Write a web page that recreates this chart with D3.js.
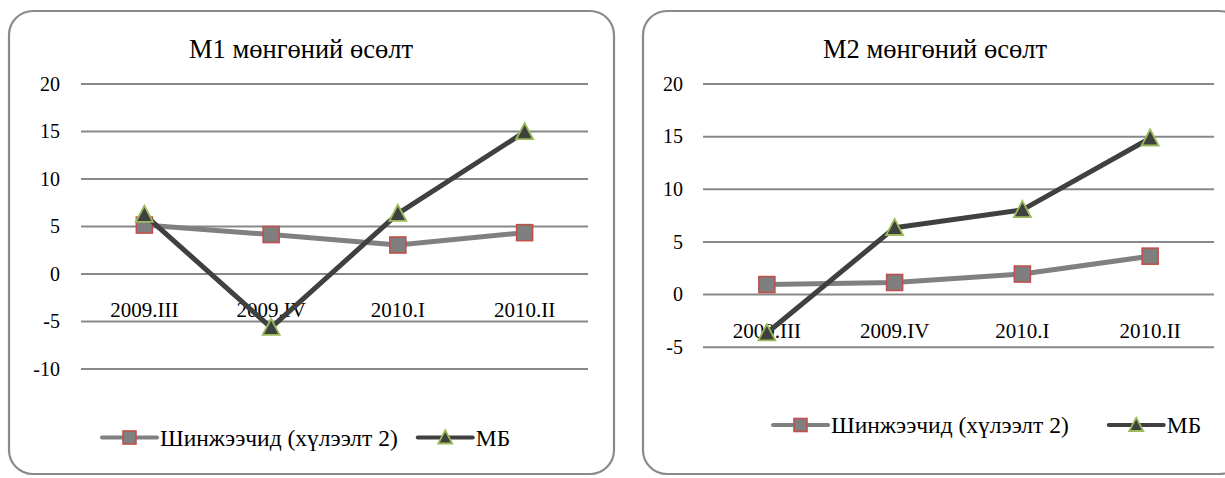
<!DOCTYPE html>
<html>
<head>
<meta charset="utf-8">
<script src="https://cdn.jsdelivr.net/npm/d3@7"></script>
<style>
  html, body { margin: 0; padding: 0; background: #ffffff; }
  svg { display: block; }
  svg text { font-family: "Liberation Serif", "DejaVu Serif", serif !important; fill: #000; }
</style>
</head>
<body>
<svg id="chart" width="1225" height="478"></svg>
<script>
// ---- data ----
const categories = ["2009.III", "2009.IV", "2010.I", "2010.II"];
const seriesNames = ["Шинжээчид (хүлээлт 2)", "МБ"];
const m1Analyst = [5.1, 4.1, 3.0, 4.3];
const m1Bank = [6.2, -5.7, 6.3, 14.9];
const m2Analyst = [0.9, 1.1, 1.9, 3.6];
const m2Bank = [-3.7, 6.3, 8.0, 14.8];
const m1Ticks = [20, 15, 10, 5, 0, -5, -10];
const m2Ticks = [20, 15, 10, 5, 0, -5];
const titles = ["М1 мөнгөний өсөлт", "М2 мөнгөний өсөлт"];

// ---- layout ----
const panels = [
  { title: titles[0], analyst: m1Analyst, bank: m1Bank, ticks: m1Ticks,
    box: { x: 9, y: 11, w: 605, h: 463 },
    plot: { x0: 81, x1: 588, yTop: 83.5, yBot: 368.5 },
    yDomain: [-10, 20], labelX: 60, titleX: 301, legendY: 437.5, legendX: 102, gap: 20 },
  { title: titles[1], analyst: m2Analyst, bank: m2Bank, ticks: m2Ticks,
    box: { x: 643, y: 11, w: 600, h: 463 },
    plot: { x0: 703, x1: 1214, yTop: 83.5, yBot: 346.7 },
    yDomain: [-5, 20], labelX: 683, titleX: 935, legendY: 425, legendX: 773, gap: 40 }
];

const svg = d3.select("#chart");
const colAnalyst = "#808080", colBank = "#404040";
const sqFill = "#7f7f7f", sqStroke = "#c0504d";
const triFill = "#404040", triStroke = "#9bbb59";

function drawSquare(g, x, y, s) {
  g.append("rect").attr("x", x - s / 2).attr("y", y - s / 2)
    .attr("width", s).attr("height", s)
    .attr("fill", sqFill).attr("stroke", sqStroke).attr("stroke-width", 1.6);
}
function drawTri(g, x, y, s) {
  const h = s * 0.95;
  g.append("path")
    .attr("d", `M${x},${y - h * 0.55} L${x + s / 2},${y + h * 0.45} L${x - s / 2},${y + h * 0.45} Z`)
    .attr("fill", triFill).attr("stroke", triStroke).attr("stroke-width", 1.8)
    .attr("stroke-linejoin", "miter");
}

panels.forEach(p => {
  const g = svg.append("g");
  // frame
  g.append("rect").attr("x", p.box.x).attr("y", p.box.y)
    .attr("width", p.box.w).attr("height", p.box.h)
    .attr("rx", 24).attr("ry", 24)
    .attr("fill", "#fff").attr("stroke", "#8a8a8a").attr("stroke-width", 2.2);

  const x = d3.scaleBand().domain(categories).range([p.plot.x0, p.plot.x1]);
  const y = d3.scaleLinear().domain(p.yDomain).range([p.plot.yBot, p.plot.yTop]);
  const cx = c => x(c) + x.bandwidth() / 2;

  // title
  g.append("text").attr("x", p.titleX).attr("y", 58)
    .attr("text-anchor", "middle").attr("font-size", 26.5).text(p.title);

  // gridlines + y labels
  const yAxis = d3.axisLeft(y).tickValues(p.ticks)
    .tickSize(-(p.plot.x1 - p.plot.x0)).tickPadding(p.plot.x0 - p.labelX)
    .tickFormat(d => String(d));
  const ya = g.append("g").attr("transform", `translate(${p.plot.x0},0)`).call(yAxis);
  ya.select(".domain").remove();
  ya.selectAll(".tick line").attr("stroke", "#888").attr("stroke-width", 2);
  ya.selectAll(".tick text").attr("font-size", 20)
    .attr("fill", "#000").attr("dy", "0.34em");

  // category labels (near zero line)
  const xAxis = d3.axisBottom(x).tickSize(0).tickPadding(0);
  const xa = g.append("g").attr("transform", `translate(0,${y(0)})`).call(xAxis);
  xa.select(".domain").remove();
  xa.selectAll(".tick text").attr("font-size", 21)
    .attr("fill", "#000").attr("dy", 0).attr("y", 43.5);

  // lines
  const line = d3.line().x((d, i) => cx(categories[i])).y(d => y(d));
  g.append("path").datum(p.analyst).attr("d", line)
    .attr("fill", "none").attr("stroke", colAnalyst).attr("stroke-width", 5)
    .attr("stroke-linejoin", "round");
  p.analyst.forEach((v, i) => drawSquare(g, cx(categories[i]), y(v), 16));

  g.append("path").datum(p.bank).attr("d", line)
    .attr("fill", "none").attr("stroke", colBank).attr("stroke-width", 5)
    .attr("stroke-linejoin", "round");
  p.bank.forEach((v, i) => drawTri(g, cx(categories[i]), y(v), 17));

  // legend
  const lg = g.append("g");
  let lx = p.legendX;
  const ly = p.legendY;
  lg.append("line").attr("x1", lx).attr("x2", lx + 55).attr("y1", ly).attr("y2", ly)
    .attr("stroke", colAnalyst).attr("stroke-width", 4).attr("stroke-linecap", "round");
  drawSquare(lg, lx + 27.5, ly, 13);
  const t1 = lg.append("text").attr("x", lx + 58).attr("y", ly + 8)
    .attr("font-size", 23.5).text(seriesNames[0]);
  const w1 = t1.node().getComputedTextLength();
  lx = lx + 58 + w1 + p.gap;
  lg.append("line").attr("x1", lx).attr("x2", lx + 55).attr("y1", ly).attr("y2", ly)
    .attr("stroke", colBank).attr("stroke-width", 4).attr("stroke-linecap", "round");
  drawTri(lg, lx + 27.5, ly, 14);
  lg.append("text").attr("x", lx + 58).attr("y", ly + 8)
    .attr("font-size", 23.5).text(seriesNames[1]);
});
</script>
</body>
</html>
